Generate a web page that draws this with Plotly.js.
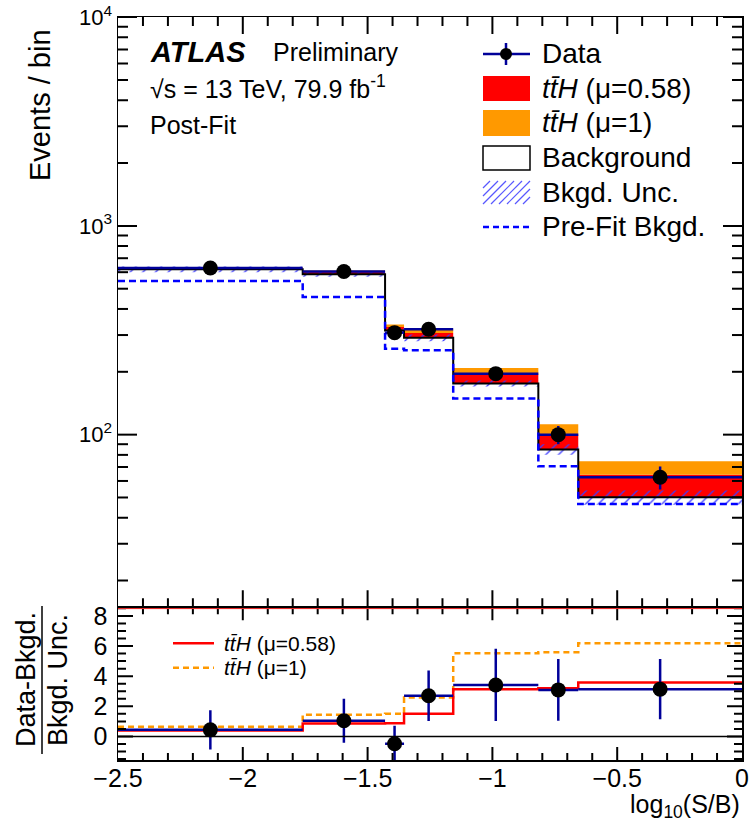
<!DOCTYPE html>
<html>
<head>
<meta charset="utf-8">
<script src="https://cdn.plot.ly/plotly-3.0.1.min.js"></script>
<style>html,body{margin:0;padding:0;background:#fff;} #plot{width:749px;height:827px;}</style>
</head>
<body>
<div id="plot"></div>
<script>
// ---- data ----
const binEdges = [-2.5, -1.76, -1.43, -1.354, -1.157, -0.816, -0.656, 0];
const dataEvents = [628, 605, 308, 320, 196, 100, 62.5];
const dataErr = [25.1, 24.6, 17.5, 17.9, 14.0, 10.0, 7.9];
const background = [619, 587, 315, 291, 176, 85, 50.1];
const bkgUnc = [19.3, 16.8, 14.6, 10.7, 5.85, 4.85, 3.95];
const tthMu058 = [7.7, 14.4, 12.8, 16.0, 18.4, 15.5, 14.1];
const tthMu1 = [12.4, 24.2, 21.9, 27.6, 32.3, 27.1, 24.4];
const preFitBkg = [545, 457, 258, 254, 149, 70.6, 46.5];

const ratioData = [0.44, 1.04, -0.48, 2.7, 3.42, 3.09, 3.14];
const ratioErr = [1.3, 1.46, 1.2, 1.67, 2.4, 2.05, 2.0];
const ratioTtH058 = [0.40, 0.86, 0.88, 1.5, 3.14, 3.2, 3.58];
const ratioTtH1 = [0.64, 1.44, 1.5, 2.58, 5.52, 5.59, 6.18];

// axis ranges
const xRange = [-2.5, 0];
const yLogRange = [1.173, 4.0005];
const yRatioRange = [-1.56, 8.57];

// ---- helpers ----
const centers = binEdges.slice(0, -1).map((e, i) => (e + binEdges[i + 1]) / 2);
const halfW = binEdges.slice(0, -1).map((e, i) => (binEdges[i + 1] - e) / 2);
const step = a => a.concat([a[a.length - 1]]);
const add = (a, b, s) => a.map((v, i) => v + s * b[i]);

const NAVY = '#000099';
const FONT = 'Liberation Sans, Arial, Helvetica, sans-serif';

// plot area in pixels
const L = 118, R = 742, T = 17, B = 760, SPLIT = 607.3;
const px = x => (x - L) / (R - L);
const py = y => (B - y) / (B - T);
const split = py(SPLIT);

const traces = [];
traces.push({x: binEdges, y: step(background), mode: 'lines', line: {width: 0, shape: 'hv'}, hoverinfo: 'skip', showlegend: false});
traces.push({x: binEdges, y: step(add(background, tthMu058, 1)), mode: 'lines', line: {width: 0, shape: 'hv'}, fill: 'tonexty', fillcolor: '#ff0000', showlegend: false});
traces.push({x: binEdges, y: step(add(background, tthMu1, 1)), mode: 'lines', line: {width: 0, shape: 'hv'}, fill: 'tonexty', fillcolor: '#ff9900', showlegend: false});
traces.push({x: binEdges, y: step(add(background, bkgUnc, -1)), mode: 'lines', line: {width: 0, shape: 'hv'}, showlegend: false});
traces.push({x: binEdges, y: step(add(background, bkgUnc, 1)), mode: 'lines', line: {width: 0, shape: 'hv'}, fill: 'tonexty',
  fillcolor: 'rgba(0,0,0,0)', fillpattern: {shape: '/', fgcolor: 'rgba(60,60,255,1)', bgcolor: 'rgba(0,0,0,0)', size: 9, solidity: 0.15}, showlegend: false});
traces.push({x: binEdges, y: step(background), mode: 'lines', line: {width: 2, color: 'black', shape: 'hv'}, showlegend: false});
traces.push({x: binEdges, y: step(preFitBkg), mode: 'lines', line: {width: 2.5, color: '#0000ff', shape: 'hv', dash: '7px,4px'}, showlegend: false});
traces.push({x: centers, y: dataEvents, mode: 'markers', marker: {color: 'black', size: 15},
  error_y: {type: 'data', array: dataErr, color: NAVY, thickness: 2.5, width: 0},
  error_x: {type: 'data', array: halfW, color: NAVY, thickness: 2.5, width: 0}, showlegend: false});

traces.push({x: binEdges, y: step(ratioTtH1), xaxis: 'x2', yaxis: 'y2', mode: 'lines', line: {width: 2.5, color: '#ff9900', shape: 'hv', dash: '6px,4px'}, showlegend: false});
traces.push({x: binEdges, y: step(ratioTtH058), xaxis: 'x2', yaxis: 'y2', mode: 'lines', line: {width: 2.5, color: '#ff0000', shape: 'hv'}, showlegend: false});
traces.push({x: centers, y: ratioData, xaxis: 'x2', yaxis: 'y2', mode: 'markers', marker: {color: 'black', size: 15},
  error_y: {type: 'data', array: ratioErr, color: NAVY, thickness: 2.5, width: 0},
  error_x: {type: 'data', array: halfW, color: NAVY, thickness: 2.5, width: 0}, showlegend: false});

// ---- tick marks as line traces (ROOT style: inside, all four sides) ----
const mainH = SPLIT - T, ratH = B - SPLIT, W = R - L;
const dLogPerPx = (yLogRange[1] - yLogRange[0]) / mainH;
const dRatPerPx = (yRatioRange[1] - yRatioRange[0]) / ratH;
const dXPerPx = (xRange[1] - xRange[0]) / W;
const tk = {main: {x: [], y: []}, ratio: {x: [], y: []}};
const addSeg = (o, x0, y0, x1, y1) => { o.x.push(x0, x1, null); o.y.push(y0, y1, null); };
for (let i = 1; i < 25; i++) {
  const v = -2.5 + i * 0.1, major = (i % 5 === 0);
  const lm = major ? 17 : 9, lr = major ? 13 : 7;
  addSeg(tk.main, v, Math.pow(10, yLogRange[0]), v, Math.pow(10, yLogRange[0] + lm * dLogPerPx));
  addSeg(tk.main, v, Math.pow(10, yLogRange[1]), v, Math.pow(10, yLogRange[1] - lm * dLogPerPx));
  addSeg(tk.ratio, v, yRatioRange[0], v, yRatioRange[0] + lr * dRatPerPx);
  addSeg(tk.ratio, v, yRatioRange[1], v, yRatioRange[1] - lr * dRatPerPx);
}
[10, 100, 1000].forEach(d => {
  for (let m = 1; m <= 9; m++) {
    const v = m * d;
    if (Math.log10(v) < yLogRange[0]) continue;
    const len = (m === 1) ? 19 : 10;
    addSeg(tk.main, xRange[0], v, xRange[0] + len * dXPerPx, v);
    addSeg(tk.main, xRange[1], v, xRange[1] - len * dXPerPx, v);
  }
});
addSeg(tk.main, xRange[0], 10000, xRange[0] + 19 * dXPerPx, 10000);
addSeg(tk.main, xRange[1], 10000, xRange[1] - 19 * dXPerPx, 10000);
for (let k = -3; k <= 17; k++) {
  const v = k * 0.5, len = (k % 4 === 0) ? 15 : 8;
  addSeg(tk.ratio, xRange[0], v, xRange[0] + len * dXPerPx, v);
  addSeg(tk.ratio, xRange[1], v, xRange[1] - len * dXPerPx, v);
}
traces.push({x: tk.main.x, y: tk.main.y, mode: 'lines', line: {color: 'black', width: 2}, cliponaxis: false, connectgaps: false, hoverinfo: 'skip', showlegend: false});
traces.push({x: tk.ratio.x, y: tk.ratio.y, xaxis: 'x2', yaxis: 'y2', mode: 'lines', line: {color: 'black', width: 2}, cliponaxis: false, connectgaps: false, hoverinfo: 'skip', showlegend: false});

// ---- legend & labels ----
const shapes = [];
const annotations = [];
const ann = (text, x, y, size, opts) => annotations.push(Object.assign({text: text, x: px(x), y: py(y), xref: 'paper', yref: 'paper',
  showarrow: false, xanchor: 'left', yanchor: 'middle', font: {family: FONT, size: size, color: 'black'}}, opts || {}));
const rect = (x0, y0, x1, y1, fill, line) => shapes.push({type: 'rect', xref: 'paper', yref: 'paper', x0: px(x0), x1: px(x1), y0: py(y1), y1: py(y0),
  fillcolor: fill, line: line || {width: 0}});
const seg = (x0, y0, x1, y1, color, width, dash) => shapes.push({type: 'line', xref: 'paper', yref: 'paper', x0: px(x0), x1: px(x1), y0: py(y0), y1: py(y1),
  line: {color: color, width: width, dash: dash || 'solid'}});

shapes.push({type: 'line', xref: 'x2', yref: 'y2', x0: -2.5, x1: 0, y0: 0, y1: 0, line: {color: 'black', width: 1.5}});
seg(L, 608.6, R, 608.6, '#ff3030', 1);

const lx0 = 483, lx1 = 530, tx = 540, LS = 28;
seg(lx0, 54, lx1, 54, NAVY, 2.5);
seg(506, 43, 506, 65, NAVY, 2.5);
shapes.push({type: 'circle', xref: 'paper', yref: 'paper', x0: px(500), x1: px(512), y0: py(60), y1: py(48), fillcolor: 'black', line: {width: 0}});
ann('Data', tx, 54, LS);
rect(lx0, 76, lx1, 101, '#ff0000');
ann('<i>t</i><i>t\u0304</i><i>H</i> (\u03bc=0.58)', tx, 88, LS);
rect(lx0, 110, lx1, 136, '#ff9900');
ann('<i>t</i><i>t\u0304</i><i>H</i> (\u03bc=1)', tx, 122, LS);
rect(lx0, 146, lx1, 170, 'white', {color: 'black', width: 1.5});
ann('Background', tx, 158, LS);
for (let k = -3; k < 7; k++) {
  let xs = lx0 + k * 8, ys = 204, xe = xs + 23, ye = 181;
  if (xe < lx0 || xs > lx1) continue;
  if (xs < lx0) { ys = 204 - (lx0 - xs); xs = lx0; }
  if (xe > lx1) { ye = 181 + (xe - lx1); xe = lx1; }
  seg(xs, ys, xe, ye, 'rgba(70,70,255,0.9)', 1.2);
}
ann('Bkgd. Unc.', tx, 193, LS);
seg(lx0, 227, lx1, 227, '#0000ff', 2.5, '6px,4px');
ann('Pre-Fit Bkgd.', tx, 227, LS);

ann('<b><i>ATLAS</i></b>', 148, 52, 29);
ann('Preliminary', 271, 52, 25);
ann('\u221as = 13 TeV, 79.9 fb<sup>-1</sup>', 148, 87, 25);
ann('Post-Fit', 148, 125, 25);

seg(173, 643.3, 214, 643.3, '#ff0000', 2.5);
ann('<i>t</i><i>t\u0304</i><i>H</i> (\u03bc=0.58)', 222, 643, 21);
seg(173, 667.7, 214, 667.7, '#ff9900', 2.5, '6px,4px');
ann('<i>t</i><i>t\u0304</i><i>H</i> (\u03bc=1)', 222, 667, 21);

ann('Events / bin', 40, 27, 29, {xanchor: 'center', yanchor: 'top', textangle: -90});
ann('Data-Bkgd.', 26, 680, 27, {xanchor: 'center', yanchor: 'middle', textangle: -90});
ann('Bkgd. Unc.', 58, 680, 27, {xanchor: 'center', yanchor: 'middle', textangle: -90});
seg(42, 606, 42, 754, 'black', 1.5);
ann('log<sub>10</sub>(S/B)', 742, 806, 25, {xanchor: 'right'});

const axBase = {showline: true, linecolor: 'black', linewidth: 1.5, mirror: true, showgrid: false, zeroline: false,
  ticks: '', tickfont: {family: FONT, size: 25, color: 'black'}};

const layout = {
  width: 749, height: 827,
  margin: {l: L, r: 749 - R, t: T, b: 827 - B, pad: 0},
  paper_bgcolor: 'white', plot_bgcolor: 'white',
  showlegend: false,
  font: {family: FONT, color: 'black'},
  xaxis: Object.assign({}, axBase, {anchor: 'y', domain: [0, 1], range: xRange, showticklabels: false, dtick: 0.5, tick0: 0}),
  yaxis: Object.assign({}, axBase, {anchor: 'x', domain: [split, 1], type: 'log', range: yLogRange,
    tickmode: 'array', tickvals: [100, 1000, 10000], ticktext: ['10<sup>2</sup>', '10<sup>3</sup>', '10<sup>4</sup>'],
    tickfont: {family: FONT, size: 22, color: 'black'}}),
  xaxis2: Object.assign({}, axBase, {anchor: 'y2', domain: [0, 1], range: xRange, dtick: 0.5, tick0: 0, ticklabelstandoff: -5}),
  yaxis2: Object.assign({}, axBase, {anchor: 'x2', domain: [0, split], range: yRatioRange, dtick: 2, tick0: 0, ticklabelstandoff: 4}),
  shapes: shapes,
  annotations: annotations
};

Plotly.newPlot('plot', traces, layout, {staticPlot: true, displayModeBar: false});
</script>
</body>
</html>
